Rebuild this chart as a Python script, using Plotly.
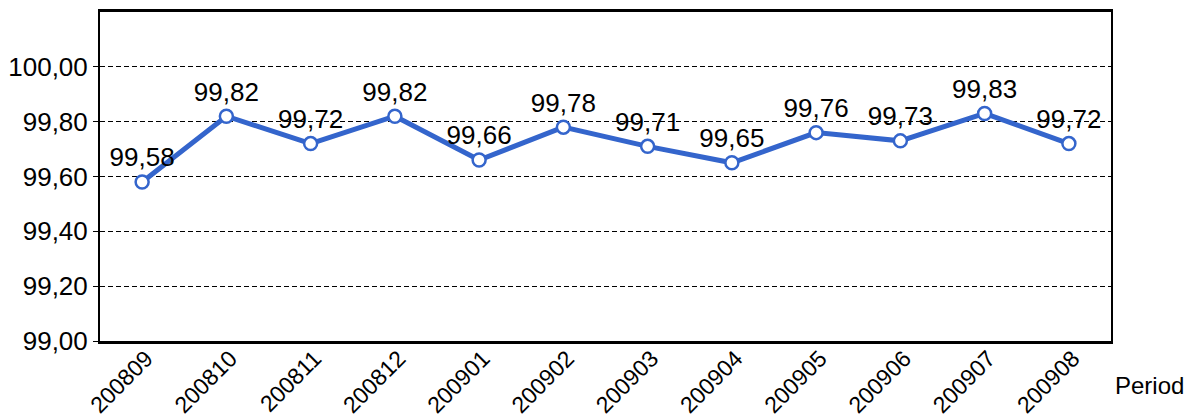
import plotly.graph_objects as go

periods = ["200809", "200810", "200811", "200812", "200901", "200902",
           "200903", "200904", "200905", "200906", "200907", "200908"]
values = [99.58, 99.82, 99.72, 99.82, 99.66, 99.78, 99.71, 99.65, 99.76, 99.73, 99.83, 99.72]
y_ticks = [99.0, 99.2, 99.4, 99.6, 99.8, 100.0]

labels = [f"{v:.2f}".replace(".", ",") for v in values]
FONT = "Liberation Sans, Arial, sans-serif"

fig = go.Figure()
fig.add_trace(go.Scatter(
    x=periods, y=values, mode="lines+markers+text",
    text=labels, textposition="top center",
    textfont=dict(family=FONT, size=26, color="black"),
    line=dict(color="#3465CC", width=5),
    marker=dict(symbol="circle", size=13, color="white",
                line=dict(color="#3465CC", width=2.5)),
    cliponaxis=False,
))

fig.update_layout(
    width=1184, height=415,
    margin=dict(l=100, r=73, t=12, b=74),
    paper_bgcolor="white", plot_bgcolor="white",
    separators=",.",
    showlegend=False,
    font=dict(family=FONT, size=25, color="black"),
    xaxis=dict(type="category", range=[-0.5, 11.5], tickangle=-45,
               showgrid=False, showline=True, linecolor="black", linewidth=3,
               mirror=True, ticks="", tickfont=dict(size=23), automargin=False,
               ticklabelstandoff=-8, ticklabelshift=4),
    yaxis=dict(range=[99.0, 100.2], tickvals=y_ticks, tickformat=".2f",
               showgrid=True, gridcolor="black", griddash="5px,3px", gridwidth=1,
               showline=True, linecolor="black", linewidth=2, mirror=True,
               ticks="outside", ticklen=5, tickcolor="black",
               tickfont=dict(size=26), zeroline=False, automargin=False),
    annotations=[dict(text="Period", xref="paper", yref="paper",
                      x=1.002, y=-0.134, xanchor="left", yanchor="middle",
                      showarrow=False, font=dict(size=24, family=FONT))],
)

fig.write_html("out.html", config={"displayModeBar": False},
               post_script="document.body.style.margin='0px';")
